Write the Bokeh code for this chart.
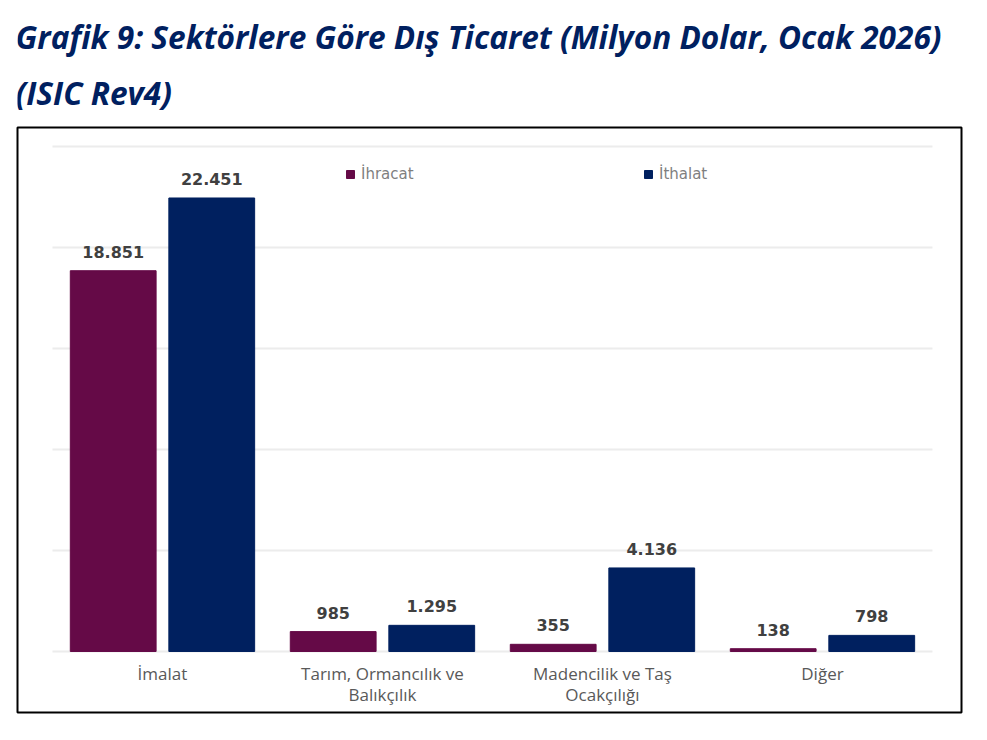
import numpy as np
from bokeh.plotting import figure
from bokeh.layouts import column
from bokeh.models import ColumnDataSource, Range1d, Legend, LegendItem
from bokeh.core.properties import value
from bokeh.embed import file_html
from bokeh.resources import INLINE

title_lines = ["Grafik 9: Sektörlere Göre Dış Ticaret (Milyon Dolar, Ocak 2026)", "(ISIC Rev4)"]
categories = ["İmalat", "Tarım, Ormancılık ve\nBalıkçılık", "Madencilik ve Taş\nOcakçılığı", "Diğer"]
series_names = ["İhracat", "İthalat"]
ihracat = [18851, 985, 355, 138]
ithalat = [22451, 1295, 4136, 798]
grid_values = [0, 5000, 10000, 15000, 20000, 25000]

C_IHR = "#650A47"
C_ITH = "#00205F"
W = 970

def fmt(v):
    return f"{v:,}".replace(",", ".")

# ---- title figure (pixel coordinates) ----
TH = 125
t = figure(width=W, height=TH, output_backend="svg", toolbar_location=None,
           x_range=Range1d(0, W), y_range=Range1d(TH, 0),
           x_axis_location=None, y_axis_location=None,
           min_border_left=0, min_border_right=0, min_border_top=0, min_border_bottom=0)
t.grid.visible = False
t.outline_line_color = None
tsrc = ColumnDataSource(dict(x=[-2, -2], y=[36, 92], t=title_lines))
t.text(x="x", y="y", text="t", source=tsrc, text_align="left", text_baseline="middle",
       text_font=value("Open Sans"), text_font_style="bold italic", text_font_size="31.6px",
       text_color="#002060")

# ---- chart figure ----
centers = np.arange(len(categories)) + 0.5
off = 0.224
bw = 0.39

p = figure(width=W, height=720 - TH, output_backend="svg", toolbar_location=None,
           x_range=Range1d(-0.159, len(categories) + 0.132),
           y_range=Range1d(-3020, 25941),
           x_axis_location=None, y_axis_location=None,
           min_border_left=17, min_border_right=W - 961, min_border_top=2, min_border_bottom=8)
p.grid.visible = False
p.outline_line_color = "black"
p.outline_line_width = 2
p.background_fill_color = "white"
p.border_fill_color = "white"

gsrc = ColumnDataSource(dict(x0=[0] * len(grid_values), x1=[len(categories)] * len(grid_values), y=grid_values))
p.segment(x0="x0", x1="x1", y0="y", y1="y", source=gsrc, line_color="#ececec", line_width=2)

src = ColumnDataSource(dict(
    x1=centers - off, x2=centers + off, a=ihracat, b=ithalat,
    la=[fmt(v) for v in ihracat], lb=[fmt(v) for v in ithalat],
))
r1 = p.vbar(x="x1", top="a", bottom=0, width=bw, source=src, fill_color=C_IHR, line_color=C_IHR)
r2 = p.vbar(x="x2", top="b", bottom=0, width=bw, source=src, fill_color=C_ITH, line_color=C_ITH)

for xs, ys, ls in (("x1", "a", "la"), ("x2", "b", "lb")):
    p.text(x=xs, y=ys, text=ls, source=src, text_align="center", text_baseline="middle",
           y_offset=-19, text_font=value("DejaVu Sans"), text_font_style="bold",
           text_font_size="16px", text_color="#404040")

csrc = ColumnDataSource(dict(x=centers, y=[0] * len(categories), t=categories))
p.text(x="x", y="y", text="t", source=csrc, text_align="center", text_baseline="top",
       y_offset=11, text_font=value("Open Sans"), text_font_size="17px",
       text_color="#595959", text_line_height=0.9)

for name, r, loc in ((series_names[0], r1, (328, 529)), (series_names[1], r2, (626, 529))):
    lg = Legend(items=[LegendItem(label=name, renderers=[r])], location=loc,
                glyph_width=10, glyph_height=10, label_standoff=6,
                label_text_font="DejaVu Sans", label_text_font_size="15px",
                label_text_color="#7f7f7f", padding=0, margin=0,
                border_line_color=None, background_fill_alpha=0)
    p.add_layout(lg, "center")

layout = column(t, p, spacing=0)
open("out.html", "w").write(file_html(layout, INLINE))
